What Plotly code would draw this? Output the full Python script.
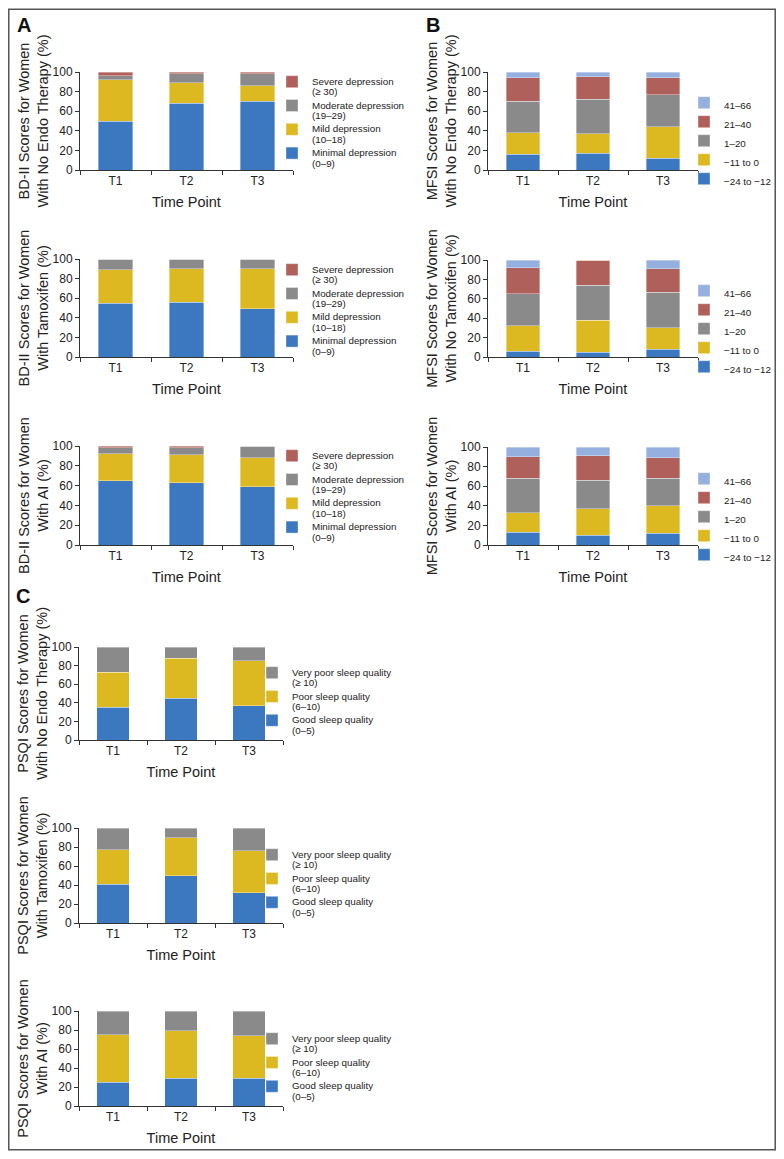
import plotly.graph_objects as go

# Page is shown with the browser's default 8px body margin, so the figure is
# sized to fit inside it and reference pixel positions are shifted by OFF.
W, H = 784, 1159
OFF = 8
WF, HF = W - 2 * OFF, H - 2 * OFF
FONT = "Liberation Sans, Arial, Helvetica, sans-serif"

BLUE = "#3B78C0"
YELLOW = "#DDB921"
GRAY = "#8A8A8A"
RED = "#B0605A"
LIGHT = "#95B0DF"

time_points = ["T1", "T2", "T3"]

# ---- A: BD-II ----
bdi_labels = ["Minimal depression<br>(0–9)", "Mild depression<br>(10–18)",
              "Moderate depression<br>(19–29)", "Severe depression<br>(≥ 30)"]
bdi_colors = [BLUE, YELLOW, GRAY, RED]
bdi_no_endo = [[50, 68, 70], [42, 21, 16], [4, 9, 12], [4, 2, 2]]
bdi_tamoxifen = [[55, 56, 49], [34, 34, 41], [11, 10, 10], [0, 0, 0]]
bdi_ai = [[65, 63, 59], [27, 28, 29], [6, 7, 12], [2, 2, 0]]

# ---- B: MFSI ----
mfsi_labels = ["−24 to −12", "−11 to 0", "1–20", "21–40", "41–66"]
mfsi_colors = [BLUE, YELLOW, GRAY, RED, LIGHT]
mfsi_no_endo = [[16, 17, 12], [22, 20, 32], [32, 35, 33], [24, 23, 17], [6, 5, 6]]
mfsi_no_tamoxifen = [[6, 5, 8], [26, 33, 22], [33, 36, 37], [27, 26, 24], [8, 0, 9]]
mfsi_ai = [[13, 10, 12], [20, 27, 28], [35, 29, 28], [22, 25, 21], [10, 9, 11]]

# ---- C: PSQI ----
psqi_labels = ["Good sleep quality<br>(0–5)", "Poor sleep quality<br>(6–10)",
               "Very poor sleep quality<br>(≥ 10)"]
psqi_colors = [BLUE, YELLOW, GRAY]
psqi_no_endo = [[35, 45, 37], [38, 43, 48], [27, 12, 15]]
psqi_tamoxifen = [[41, 50, 32], [36, 40, 44], [23, 10, 24]]
psqi_ai = [[25, 29, 29], [50, 50, 45], [25, 21, 26]]

# (y title, data, labels, colours, plot box in page px [x0,x1,y0,y1], legend top-left in page px)
panels = [
    ("BD-II Scores for Women<br>With No Endo Therapy (%)", bdi_no_endo, bdi_labels, bdi_colors, (80, 293, 72, 170), (272, 70)),
    ("BD-II Scores for Women<br>With Tamoxifen (%)", bdi_tamoxifen, bdi_labels, bdi_colors, (80, 293, 259, 357), (272, 258)),
    ("BD-II Scores for Women<br>With AI (%)", bdi_ai, bdi_labels, bdi_colors, (80, 293, 446, 545), (272, 444)),
    ("MFSI Scores for Women<br>With No Endo Therapy (%)", mfsi_no_endo, mfsi_labels, mfsi_colors, (488, 698, 72, 170), (684, 91)),
    ("MFSI Scores for Women<br>With No Tamoxifen (%)", mfsi_no_tamoxifen, mfsi_labels, mfsi_colors, (488, 698, 260, 357), (684, 279)),
    ("MFSI Scores for Women<br>With AI (%)", mfsi_ai, mfsi_labels, mfsi_colors, (488, 698, 447, 545), (684, 467)),
    ("PSQI Scores for Women<br>With No Endo Therapy (%)", psqi_no_endo, psqi_labels, psqi_colors, (79, 283, 647, 740), (252, 661)),
    ("PSQI Scores for Women<br>With Tamoxifen (%)", psqi_tamoxifen, psqi_labels, psqi_colors, (79, 283, 828, 923), (252, 843)),
    ("PSQI Scores for Women<br>With AI (%)", psqi_ai, psqi_labels, psqi_colors, (79, 283, 1011, 1106), (252, 1027)),
]


def fx(px):
    return (px - OFF) / WF


def fy(py):
    return 1 - (py - OFF) / HF


def legend_text(label, size=9.8):
    return "<br>".join(f"<span style='font-size:{size}px'>{ln}</span>" for ln in label.split("<br>"))


fig = go.Figure()
layout = {}
for i, (ytitle, series, labels, colors, box, leg) in enumerate(panels, start=1):
    sfx = "" if i == 1 else str(i)
    xa, ya, lg = "x" + sfx, "y" + sfx, "legend" + sfx
    for vals, lab, col in zip(series, labels, colors):
        fig.add_trace(go.Bar(
            x=time_points, y=vals, name=legend_text(lab),
            marker=dict(color=col, line=dict(color="rgba(255,255,255,0.6)", width=0.6)),
            xaxis=xa, yaxis=ya, legend=lg, showlegend=True,
        ))
    x0, x1, y0, y1 = box
    layout["xaxis" + sfx] = dict(
        domain=[fx(x0), fx(x1)], anchor=ya, showline=True, linecolor="#333", linewidth=1,
        ticks="outside", tickson="boundaries", ticklen=4, tickcolor="#333",
        tickfont=dict(size=12, family=FONT, color="#222"), showgrid=False,
        title=dict(text="Time Point", font=dict(size=14.5, family=FONT, color="#222"), standoff=9),
        fixedrange=True,
    )
    layout["yaxis" + sfx] = dict(
        domain=[fy(y1), fy(y0)], anchor=xa, range=[0, 100], dtick=20,
        showline=True, linecolor="#333", linewidth=1, ticks="outside", ticklen=4, tickcolor="#333",
        tickfont=dict(size=12, family=FONT, color="#222"), showgrid=False, zeroline=False,
        title=dict(text=ytitle, font=dict(size=14.5, family=FONT, color="#222"), standoff=0),
        fixedrange=True,
    )
    layout[lg] = dict(
        x=fx(leg[0]), y=fy(leg[1]), xanchor="left", yanchor="top",
        traceorder="reversed", valign="top", bgcolor="rgba(0,0,0,0)",
        font=dict(size=8, family=FONT, color="#222"),
    )

fig.update_layout(**layout)
letter_font = dict(size=20, family=FONT, color="#111")
fig.update_layout(
    width=WF, height=HF, margin=dict(l=0, r=0, t=0, b=0, autoexpand=False),
    barmode="stack", bargap=0.52,
    paper_bgcolor="white", plot_bgcolor="white",
    font=dict(family=FONT, color="#222"),
    annotations=[
        dict(text="<b>A</b>", x=fx(24), y=fy(25), xref="paper", yref="paper", showarrow=False,
             xanchor="center", yanchor="middle", font=letter_font),
        dict(text="<b>B</b>", x=fx(433), y=fy(25), xref="paper", yref="paper", showarrow=False,
             xanchor="center", yanchor="middle", font=letter_font),
        dict(text="<b>C</b>", x=fx(23), y=fy(596), xref="paper", yref="paper", showarrow=False,
             xanchor="center", yanchor="middle", font=letter_font),
    ],
    shapes=[dict(type="rect", xref="paper", yref="paper", x0=0.001, y0=0.001, x1=0.999, y1=0.999,
                 line=dict(color="#555", width=1.5))],
)

fig.write_html("out.html")
